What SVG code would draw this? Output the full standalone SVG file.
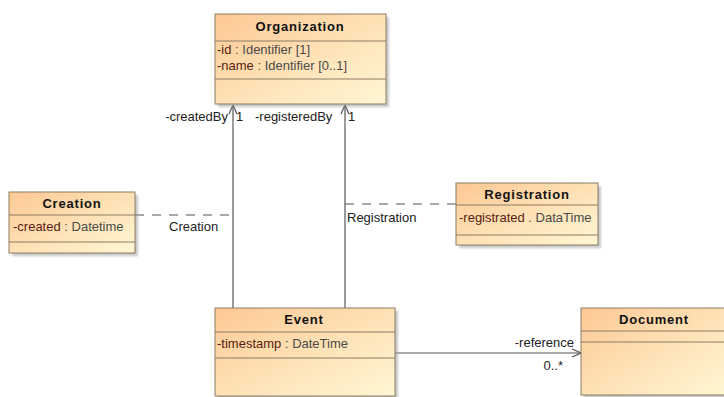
<svg xmlns="http://www.w3.org/2000/svg" width="724" height="397" viewBox="0 0 724 397">
  <defs>
    <linearGradient id="classFill" x1="0" y1="0" x2="1" y2="1">
      <stop offset="0" stop-color="#fdc894"/>
      <stop offset="0.55" stop-color="#fee3b8"/>
      <stop offset="1" stop-color="#fff7d4"/>
    </linearGradient>
    <filter id="soft" x="-10%" y="-10%" width="130%" height="130%">
      <feGaussianBlur stdDeviation="1"/>
    </filter>
    <marker id="openArrow" viewBox="0 0 10 10" refX="10" refY="5" markerWidth="10" markerHeight="10" markerUnits="userSpaceOnUse" orient="auto">
      <path d="M1,1 L10,5 L1,9" fill="none" stroke="#555" stroke-width="1.2"/>
    </marker>
  </defs>
  <style>
    .shadow { fill: #9a9a9a; opacity: 0.55; filter: url(#soft); }
    .box { fill: url(#classFill); stroke: #8c7d62; stroke-width: 1; }
    .div { stroke: #8c7d62; stroke-width: 1; }
    .title { font-family: "Liberation Sans", Arial, sans-serif; font-size: 13px; font-weight: bold; letter-spacing: 0.8px; fill: #111; text-anchor: middle; }
    .attr { font-family: "Liberation Sans", Arial, sans-serif; font-size: 13px; fill: #4a4a4a; }
    .attr .nm { fill: #5a1c10; }
    .lbl { font-family: "Liberation Sans", Arial, sans-serif; font-size: 13px; fill: #222; }
    .assoc { stroke: #555; stroke-width: 1.2; fill: none; }
    .dash { stroke: #555; stroke-width: 1.2; fill: none; stroke-dasharray: 9 8; }
  </style>

  <rect width="724" height="397" fill="#ffffff"/>

  <!-- connectors -->
  <g id="connectors">
    <line class="assoc" x1="233" y1="308" x2="233" y2="105" marker-end="url(#openArrow)"/>
    <line class="assoc" x1="345" y1="308" x2="345" y2="105" marker-end="url(#openArrow)"/>
    <line class="dash" x1="135" y1="215" x2="233" y2="215"/>
    <line class="dash" x1="345" y1="204" x2="456" y2="204"/>
    <line class="assoc" x1="395" y1="353" x2="581" y2="353" marker-end="url(#openArrow)"/>
    <text class="lbl" x="228" y="121" text-anchor="end">-createdBy</text>
    <text class="lbl" x="236" y="121">1</text>
    <text class="lbl" x="255" y="121">-registeredBy</text>
    <text class="lbl" x="348" y="121">1</text>
    <text class="lbl" x="169" y="231">Creation</text>
    <text class="lbl" x="347" y="222">Registration</text>
    <text class="lbl" x="574" y="347" text-anchor="end">-reference</text>
    <text class="lbl" x="563" y="370" text-anchor="end">0..*</text>
  </g>

  <!-- Organization -->
  <g id="organization">
    <rect class="shadow" x="218" y="17" width="171" height="90"/>
    <rect class="box" x="215" y="14" width="171" height="90"/>
    <line class="div" x1="215" y1="41" x2="386" y2="41"/>
    <line class="div" x1="215" y1="79" x2="386" y2="79"/>
    <text class="title" x="300" y="31">Organization</text>
    <text class="attr" x="217" y="54"><tspan class="nm">-id</tspan> : Identifier [1]</text>
    <text class="attr" x="217" y="70"><tspan class="nm">-name</tspan> : Identifier [0..1]</text>
  </g>

  <!-- Creation -->
  <g id="creation">
    <rect class="shadow" x="12" y="195" width="126" height="61"/>
    <rect class="box" x="9" y="192" width="126" height="61"/>
    <line class="div" x1="9" y1="215" x2="135" y2="215"/>
    <line class="div" x1="9" y1="242" x2="135" y2="242"/>
    <text class="title" x="72" y="208">Creation</text>
    <text class="attr" x="13" y="231"><tspan class="nm">-created</tspan> : Datetime</text>
  </g>

  <!-- Registration -->
  <g id="registration">
    <rect class="shadow" x="459" y="186" width="142" height="62"/>
    <rect class="box" x="456" y="183" width="142" height="62"/>
    <line class="div" x1="456" y1="205" x2="598" y2="205"/>
    <line class="div" x1="456" y1="235" x2="598" y2="235"/>
    <text class="title" x="527" y="199">Registration</text>
    <text class="attr" x="459" y="222"><tspan class="nm">-registrated</tspan> . DataTime</text>
  </g>

  <!-- Event -->
  <g id="event">
    <rect class="shadow" x="218" y="311" width="180" height="88"/>
    <rect class="box" x="215" y="308" width="180" height="88"/>
    <line class="div" x1="215" y1="332" x2="395" y2="332"/>
    <line class="div" x1="215" y1="358" x2="395" y2="358"/>
    <text class="title" x="304" y="324">Event</text>
    <text class="attr" x="217" y="348"><tspan class="nm">-timestamp</tspan> : DateTime</text>
  </g>

  <!-- Document -->
  <g id="document">
    <rect class="shadow" x="584" y="311" width="146" height="87"/>
    <rect class="box" x="581" y="308" width="146" height="87"/>
    <line class="div" x1="581" y1="331" x2="727" y2="331"/>
    <line class="div" x1="581" y1="342" x2="727" y2="342"/>
    <text class="title" x="654" y="324">Document</text>
  </g>
</svg>
